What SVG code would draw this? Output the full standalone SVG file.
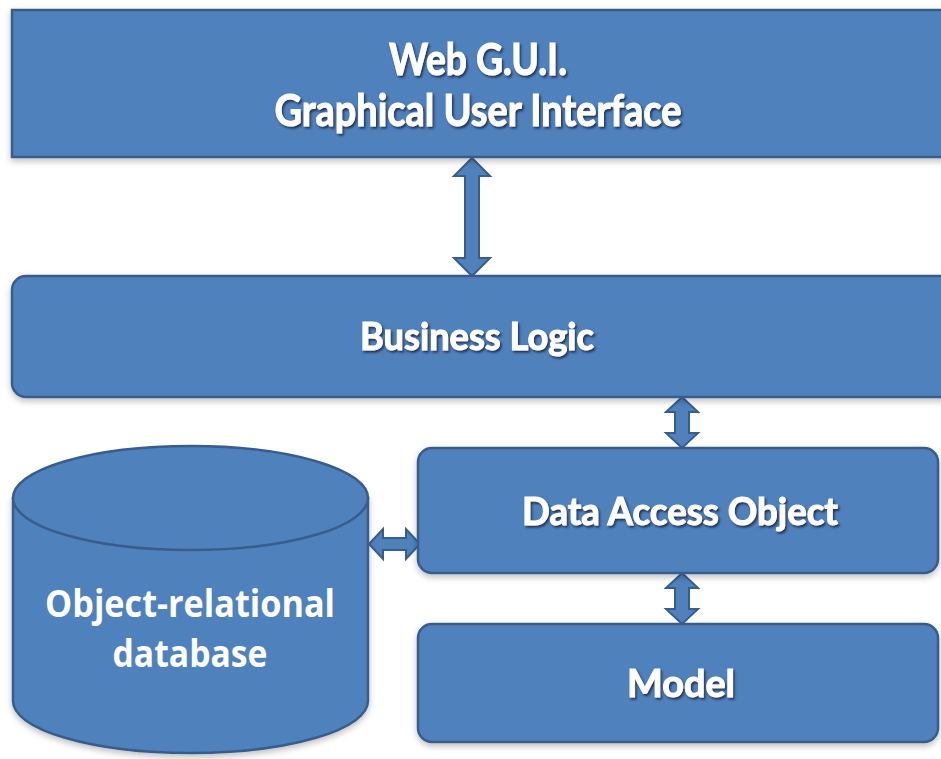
<svg xmlns="http://www.w3.org/2000/svg" width="941" height="759" viewBox="0 0 941 759">
<defs>
<filter id="ts" x="-10%" y="-30%" width="120%" height="160%">
<feDropShadow dx="1.5" dy="2" stdDeviation="1.2" flood-color="#1b2b40" flood-opacity="0.9"/>
</filter>
<filter id="bs" x="-5%" y="-10%" width="110%" height="125%">
<feDropShadow dx="0" dy="3" stdDeviation="3" flood-color="#000" flood-opacity="0.25"/>
</filter>
</defs>
<style>
.shape{fill:#4F81BD;stroke:#385D8A;stroke-width:2.5}
.arrow{fill:#4F81BD;stroke:#385D8A;stroke-width:2}
.lbl{font-family:Lato,"Open Sans","Liberation Sans",sans-serif;font-weight:bold;fill:#fff;stroke:#fff;stroke-width:1;text-anchor:middle;filter:url(#ts)}
.db{font-family:"Open Sans",Lato,"Liberation Sans",sans-serif;font-weight:bold;fill:#fff;text-anchor:middle;font-size:38px}
</style>
<rect width="941" height="759" fill="#fff"/>

<g id="connectors">
<path class="arrow" d="M472,158 L490,176 L479,176 L479,258 L490,258 L472,276 L454,258 L465,258 L465,176 L454,176 Z"/>
<path class="arrow" d="M682,397 L698,412 L689,412 L689,433 L698,433 L682,448 L666,433 L675,433 L675,412 L666,412 Z"/>
<path class="arrow" d="M682,573 L698,588 L689,588 L689,609 L698,609 L682,624 L666,609 L675,609 L675,588 L666,588 Z"/>
<path class="arrow" d="M369,544 L383,529 L383,538 L406,538 L406,529 L420,544 L406,559 L406,550 L383,550 L383,559 Z"/>
</g>

<g id="web-gui">
<rect class="shape" x="12" y="10" width="940" height="147" filter="url(#bs)"/>
<text class="lbl" x="478" y="75" font-size="44" textLength="178" lengthAdjust="spacingAndGlyphs">Web G.U.I.</text>
<text class="lbl" x="478" y="126" font-size="44" textLength="407" lengthAdjust="spacingAndGlyphs">Graphical User Interface</text>
</g>

<g id="business-logic">
<rect class="shape" x="12" y="276" width="945" height="121" rx="14" filter="url(#bs)"/>
<text class="lbl" x="477" y="350" font-size="38" textLength="234" lengthAdjust="spacingAndGlyphs">Business Logic</text>
</g>

<g id="dao">
<rect class="shape" x="418" y="448" width="520" height="125" rx="14" filter="url(#bs)"/>
<text class="lbl" x="680" y="525" font-size="38" textLength="316" lengthAdjust="spacingAndGlyphs">Data Access Object</text>
</g>

<g id="model">
<rect class="shape" x="418" y="624" width="520" height="118" rx="14" filter="url(#bs)"/>
<text class="lbl" x="681" y="697" font-size="38" textLength="108" lengthAdjust="spacingAndGlyphs">Model</text>
</g>

<g id="database">
<path class="shape" d="M13,498 L13,701 A177.5,52 0 0 0 368,701 L368,498 Z" filter="url(#bs)"/>
<ellipse class="shape" cx="190.5" cy="498" rx="177.5" ry="52"/>
<text class="db" x="190" y="617" textLength="290" lengthAdjust="spacingAndGlyphs">Object-relational</text>
<text class="db" x="190" y="667" textLength="155" lengthAdjust="spacingAndGlyphs">database</text>
</g>
</svg>
